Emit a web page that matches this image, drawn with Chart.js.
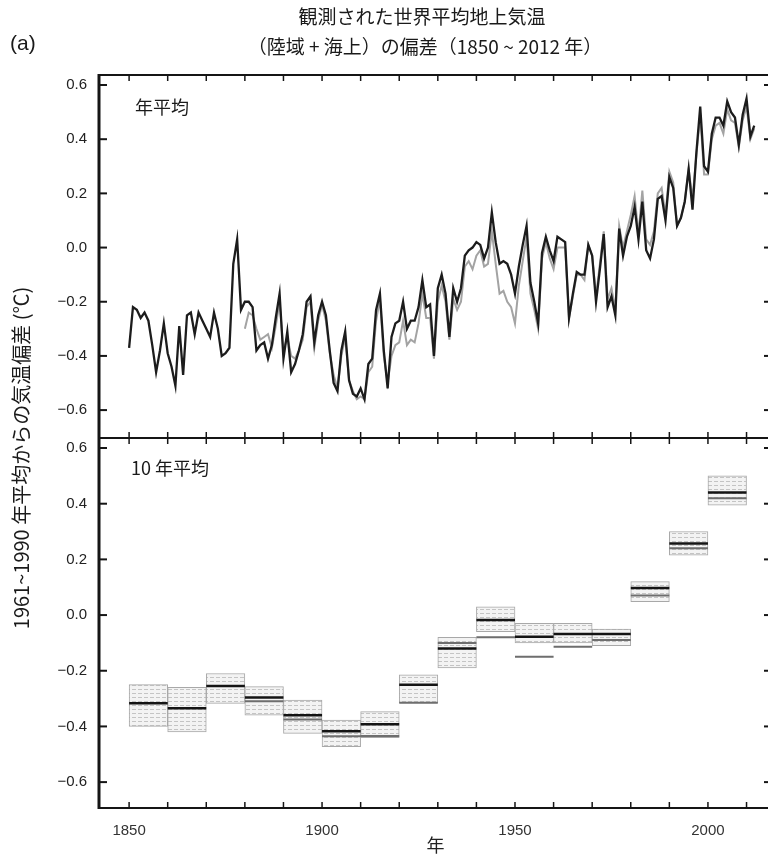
<!DOCTYPE html>
<html lang="ja">
<head>
<meta charset="utf-8">
<title>観測された世界平均地上気温</title>
<script src="https://cdn.jsdelivr.net/npm/chart.js@4.4.1/dist/chart.umd.min.js"></script>
<style>
    html, body { margin: 0; padding: 0; background: #fff; overflow: hidden; }
    #wrap { position: relative; width: 768px; height: 856px; overflow: hidden; }
    canvas { display: block; }
</style>
</head>
<body>
<div id="wrap"><canvas id="tempChart" width="778" height="856"></canvas></div>
<script>
// Annual anomalies (deg C, vs 1961-1990), black = main series from 1850
const annualStart = 1850;
const annualMain = [
    -0.37, -0.22, -0.23, -0.26, -0.24, -0.27, -0.36, -0.46, -0.38, -0.28,
    -0.39, -0.44, -0.51, -0.29, -0.47, -0.25, -0.24, -0.32, -0.24, -0.27,
    -0.30, -0.33, -0.24, -0.30, -0.40, -0.39, -0.37, -0.06, 0.03, -0.23,
    -0.20, -0.20, -0.22, -0.38, -0.36, -0.35, -0.41, -0.36, -0.26, -0.17,
    -0.41, -0.31, -0.46, -0.43, -0.38, -0.32, -0.20, -0.18, -0.35, -0.25,
    -0.20, -0.25, -0.38, -0.50, -0.53, -0.38, -0.31, -0.49, -0.54, -0.55,
    -0.52, -0.56, -0.43, -0.41, -0.23, -0.17, -0.38, -0.52, -0.33, -0.28,
    -0.27, -0.20, -0.30, -0.27, -0.27, -0.22, -0.12, -0.22, -0.21, -0.40,
    -0.15, -0.10, -0.17, -0.33, -0.15, -0.20, -0.15, -0.03, -0.01, 0.00,
    0.02, 0.01, -0.04, 0.00, 0.13, 0.02, -0.06, -0.05, -0.06, -0.10,
    -0.17, -0.07, 0.01, 0.08, -0.13, -0.20, -0.28, -0.02, 0.04, -0.01,
    -0.05, 0.04, 0.03, 0.02, -0.26, -0.17, -0.09, -0.10, -0.10, 0.01,
    -0.03, -0.20, -0.08, 0.05, -0.22, -0.18, -0.25, 0.07, -0.03, 0.04,
    0.08, 0.15, 0.03, 0.17, -0.01, -0.04, 0.03, 0.18, 0.19, 0.10,
    0.26, 0.22, 0.08, 0.11, 0.17, 0.29, 0.14, 0.35, 0.52, 0.30,
    0.28, 0.42, 0.48, 0.48, 0.45, 0.54, 0.50, 0.48, 0.38, 0.49,
    0.55, 0.41, 0.45
];

// gray = other data sets, from 1880
const otherStart = 1880;
const annualOther = [
    -0.30, -0.24, -0.25, -0.30, -0.34, -0.33, -0.32, -0.37, -0.29, -0.20,
    -0.38, -0.33, -0.40, -0.41, -0.38, -0.34, -0.22, -0.20, -0.37, -0.27,
    -0.21, -0.27, -0.39, -0.47, -0.52, -0.40, -0.33, -0.49, -0.53, -0.56,
    -0.55, -0.56, -0.46, -0.44, -0.27, -0.19, -0.40, -0.50, -0.40, -0.36,
    -0.35, -0.27, -0.36, -0.34, -0.35, -0.28, -0.17, -0.26, -0.26, -0.41,
    -0.20, -0.14, -0.20, -0.34, -0.19, -0.23, -0.20, -0.07, -0.05, -0.08,
    -0.03, -0.01, -0.07, -0.06, 0.06, -0.06, -0.17, -0.16, -0.20, -0.22,
    -0.28, -0.14, -0.05, 0.04, -0.17, -0.23, -0.30, -0.04, 0.02, -0.04,
    -0.08, 0.00, 0.00, 0.00, -0.26, -0.18, -0.10, -0.10, -0.12, 0.01,
    -0.03, -0.18, -0.06, 0.06, -0.19, -0.15, -0.23, 0.08, 0.00, 0.06,
    0.12, 0.19, 0.05, 0.21, 0.03, 0.01, 0.06, 0.20, 0.22, 0.12,
    0.28, 0.24, 0.08, 0.11, 0.17, 0.29, 0.18, 0.34, 0.49, 0.27,
    0.27, 0.40, 0.45, 0.46, 0.42, 0.51, 0.47, 0.46, 0.37, 0.47,
    0.52, 0.40, 0.44
];

// Decadal means + uncertainty range
const decadeStarts = [1850, 1860, 1870, 1880, 1890, 1900, 1910, 1920, 1930, 1940, 1950, 1960, 1970, 1980, 1990, 2000];
const decadeMean  = [-0.317, -0.335, -0.255, -0.296, -0.360, -0.417, -0.392, -0.250, -0.120, -0.018, -0.078, -0.068, -0.068, 0.097, 0.257, 0.440];
const decadeLow   = [-0.40, -0.42, -0.317, -0.36, -0.425, -0.473, -0.44, -0.315, -0.19, -0.06, -0.10, -0.10, -0.11, 0.048, 0.215, 0.395];
const decadeHigh  = [-0.25, -0.26, -0.21, -0.257, -0.305, -0.377, -0.347, -0.215, -0.08, 0.03, -0.03, -0.03, -0.05, 0.12, 0.30, 0.50];
const decadeOther = [null, null, null, -0.31, -0.375, -0.435, -0.434, -0.315, -0.10, -0.08, -0.15, -0.114, -0.09, 0.07, 0.24, 0.42];

const yTickValues = [-0.6, -0.4, -0.2, 0.0, 0.2, 0.4, 0.6];
const xTickYears = [1850, 1900, 1950, 2000];
const minorYears = [1850, 1860, 1870, 1880, 1890, 1900, 1910, 1920, 1930, 1940, 1950, 1960, 1970, 1980, 1990, 2000, 2010];

const jpFont = '"Noto Sans CJK JP", "Noto Sans", sans-serif';
const numFont = '"Liberation Sans", Arial, sans-serif';

function toPoints(values, start) {
    return values.map((v, i) => ({ x: start + i, y: v }));
}

function decadeSegments(values) {
    const pts = [];
    decadeStarts.forEach((d, i) => {
        if (values[i] === null) return;
        pts.push({ x: d, y: values[i] }, { x: d + 10, y: values[i] }, { x: d + 10, y: null });
    });
    return pts;
}

function boxPattern() {
    const c = document.createElement('canvas');
    c.width = 6; c.height = 4;
    const g = c.getContext('2d');
    g.fillStyle = '#f3f3f3';
    g.fillRect(0, 0, 6, 4);
    g.fillStyle = '#c4c4c4';
    g.fillRect(0, 1, 4, 1);
    return g.createPattern(c, 'repeat');
}

function fmtTick(v) {
    const s = Math.abs(v).toFixed(1);
    return v < -1e-9 ? '\u2212' + s : s;
}

// frames + inward ticks for both panels
const framePlugin = {
    id: 'frames',
    afterDraw(chart) {
        const { ctx, chartArea: ca, scales } = chart;
        const x = scales.x;
        const seg = (x1, y1, x2, y2) => { ctx.beginPath(); ctx.moveTo(x1, y1); ctx.lineTo(x2, y2); ctx.stroke(); };
        ctx.save();
        ctx.strokeStyle = '#151515';
        ['yTop', 'yBot'].forEach(id => {
            const y = scales[id];
            ctx.lineWidth = 2;
            ctx.strokeRect(ca.left, y.top, ca.right - ca.left, y.bottom - y.top);
            y.ticks.forEach(t => {
                const py = y.getPixelForValue(t.value);
                seg(ca.left, py, ca.left + 8, py);
                seg(ca.right, py, ca.right - 8, py);
            });
            ctx.lineWidth = 1.5;
            minorYears.forEach(yr => {
                const px = x.getPixelForValue(yr);
                seg(px, y.top, px, y.top + 6);
                seg(px, y.bottom, px, y.bottom - 6);
            });
        });
        ctx.lineWidth = 3;
        seg(ca.left, ca.top - 1, ca.left, ca.bottom + 1);
        ctx.restore();
    }
};

// titles and panel labels
const textPlugin = {
    id: 'texts',
    afterDraw(chart) {
        const { ctx, scales } = chart;
        ctx.save();
        ctx.fillStyle = '#1a1a1a';
        ctx.textBaseline = 'middle';
        ctx.textAlign = 'center';
        ctx.font = '19px ' + jpFont;
        ctx.fillText('観測された世界平均地上気温', 422, 17);
        ctx.fillText('（陸域 + 海上）の偏差（1850 ~ 2012 年）', 425, 47);
        ctx.textAlign = 'left';
        ctx.font = '21px ' + numFont;
        ctx.fillText('(a)', 10, 44);
        ctx.font = '18px ' + jpFont;
        ctx.fillText('年平均', scales.x.getPixelForValue(1851.5), 107);
        ctx.fillText('10 年平均', scales.x.getPixelForValue(1850.5), 468);
        ctx.translate(21, 458);
        ctx.rotate(-Math.PI / 2);
        ctx.textAlign = 'center';
        ctx.font = '20px ' + jpFont;
        ctx.fillText('1961~1990 年平均からの気温偏差 (℃)', 0, 0);
        ctx.restore();
    }
};

function yScale(min, max, weight, stackWeight) {
    return {
        type: 'linear',
        position: 'left',
        stack: 'panels',
        stackWeight: stackWeight,
        weight: weight,
        min: min,
        max: max,
        afterBuildTicks: s => { s.ticks = yTickValues.map(v => ({ value: v })); },
        afterFit: s => { s.width = 99; },
        grid: { display: false, drawTicks: false },
        border: { display: false },
        ticks: {
            padding: 12,
            color: '#222',
            font: { family: numFont, size: 15 },
            callback: v => fmtTick(v)
        }
    };
}

new Chart(document.getElementById('tempChart'), {
    type: 'line',
    data: {
        datasets: [
            {
                label: '他のデータセット（年平均）',
                data: toPoints(annualOther, otherStart),
                yAxisID: 'yTop',
                borderColor: '#a3a3a3',
                borderWidth: 2,
                pointRadius: 0,
                tension: 0,
                order: 5
            },
            {
                label: '年平均',
                data: toPoints(annualMain, annualStart),
                yAxisID: 'yTop',
                borderColor: '#1c1c1c',
                borderWidth: 2.3,
                pointRadius: 0,
                tension: 0,
                order: 4
            },
            {
                type: 'bar',
                label: '不確実性の幅',
                data: decadeStarts.map((d, i) => ({ x: d + 5, y: [decadeLow[i], decadeHigh[i]] })),
                yAxisID: 'yBot',
                backgroundColor: boxPattern(),
                borderColor: '#a8a8a8',
                borderWidth: 1,
                borderSkipped: false,
                barPercentage: 1,
                categoryPercentage: 1,
                order: 3
            },
            {
                label: '他のデータセット（10 年平均）',
                data: decadeSegments(decadeOther),
                yAxisID: 'yBot',
                borderColor: '#6e6e6e',
                borderWidth: 2,
                pointRadius: 0,
                spanGaps: false,
                order: 2
            },
            {
                label: '10 年平均',
                data: decadeSegments(decadeMean),
                yAxisID: 'yBot',
                borderColor: '#141414',
                borderWidth: 2.5,
                pointRadius: 0,
                spanGaps: false,
                order: 1
            }
        ]
    },
    options: {
        responsive: false,
        animation: false,
        layout: { padding: { top: 75, left: 0, right: 6, bottom: 0 } },
        plugins: {
            legend: { display: false },
            tooltip: { enabled: false }
        },
        scales: {
            x: {
                type: 'linear',
                offset: false,
                min: 1842.2,
                max: 2016.6,
                afterBuildTicks: s => { s.ticks = xTickYears.map(v => ({ value: v })); },
                afterFit: s => { s.height = 48; },
                grid: { display: false, drawTicks: false, offset: false },
                border: { display: false },
                ticks: {
                    padding: 14,
                    maxRotation: 0,
                    color: '#333',
                    font: { family: numFont, size: 15 },
                    callback: v => String(v)
                },
                title: {
                    display: true,
                    text: '年',
                    color: '#222',
                    font: { family: jpFont, size: 18 },
                    padding: { top: 0, bottom: 0 }
                }
            },
            yBot: yScale(-0.693, 0.636, 0, 370),
            yTop: yScale(-0.703, 0.637, 1, 363)
        }
    },
    plugins: [framePlugin, textPlugin]
});
</script>
</body>
</html>
